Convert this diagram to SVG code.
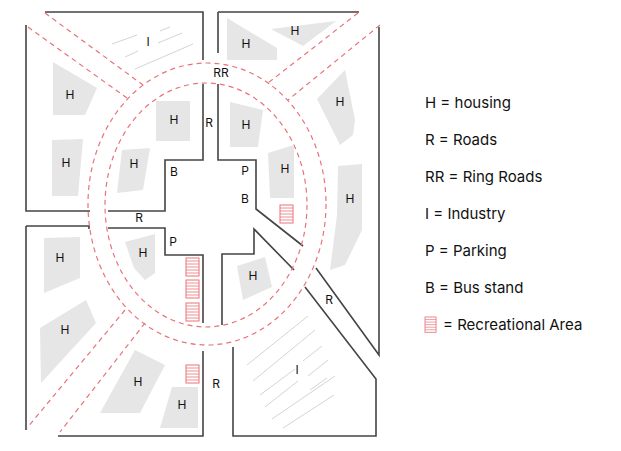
<svg xmlns="http://www.w3.org/2000/svg" width="621" height="451" viewBox="0 0 621 451">
<defs>
<style>
.w{fill:none;stroke:#444;stroke-width:1.6}
.d{fill:none;stroke:#e8737a;stroke-width:1.2;stroke-dasharray:5 4}
.h{fill:#e6e6e6}
.i{stroke:#d4d4d4;stroke-width:1}
text{font-family:Inter,"Liberation Sans",sans-serif;fill:#111}
.s{font-size:12px;text-anchor:middle}
.l{font-size:15px}
</style>
<g id="rec"><rect x="0" y="0" width="13" height="18" fill="none" stroke="#e8737a" stroke-width="1"/><path d="M0 3h13M0 6h13M0 9h13M0 12h13M0 15h13" stroke="#e8737a" stroke-width="0.8"/></g>
</defs>
<rect width="621" height="451" fill="#fff"/>
<g id="blocks">
<path class="w" d="M45 12H203V60M203 84V160H165V211H108M26 25V211H90"/>
<path class="w" d="M218 12H359M218 12V53M218 84V160H256V209L303 246M379 27V355L316 268"/>
<path class="w" d="M26 226H89V229M26 226V430M58 436H203V351M108 228H165V255H203V323"/>
<path class="w" d="M222 325V254H254V229L294 270M233 347V436H376V379L305 287"/>
</g>
<g id="roads">
<ellipse class="d" cx="207" cy="204" rx="119" ry="141"/>
<ellipse class="d" cx="206" cy="205" rx="101" ry="122"/>
<path class="d" d="M28 27L127 98M45 13L143 85M358 13L268 83M380 25L288 100M125 310L27 428M145 323L60 432"/>
</g>
<g id="houses">
<polygon class="h" points="53,62 97,88 85,115 53,115"/>
<polygon class="h" points="52,140 83,139 78,196 52,196"/>
<polygon class="h" points="156,101 190,101 190,141 156,141"/>
<polygon class="h" points="122,150 150,148 143,190 117,193"/>
<polygon class="h" points="227,18 277,48 277,60 227,60"/>
<polygon class="h" points="271,29 336,21 303,46"/>
<polygon class="h" points="230,102 263,110 258,147 230,147"/>
<polygon class="h" points="268,153 294,145 294,198 270,198"/>
<polygon class="h" points="317,99 345,70 355,120 353,135 340,145"/>
<polygon class="h" points="338,166 362,164 362,230 345,265 330,270 337,215"/>
<polygon class="h" points="44,238 80,237 80,278 44,293"/>
<polygon class="h" points="40,328 86,300 96,323 41,383"/>
<polygon class="h" points="100,413 135,350 165,365 140,413"/>
<polygon class="h" points="172,387 198,387 198,428 160,428"/>
<polygon class="h" points="125,242 155,234 155,273 145,280 134,268"/>
<polygon class="h" points="237,266 265,257 272,287 243,300"/>
</g>
<g id="industry">
<path class="i" d="M112 44L137 35M125 57L138 51M158 43L182 33M160 31L170 27M135 69L193 44"/>
<path class="i" d="M247 365L308 316M253 381L315 330M260 395L295 369M265 407L298 381M272 419L335 376M283 428L334 395M303 361L322 346M308 376L328 360M310 390L327 378"/>
</g>
<g id="recreation">
<use href="#rec" x="280" y="205"/>
<use href="#rec" x="186" y="258"/>
<use href="#rec" x="186" y="280"/>
<use href="#rec" x="186" y="303"/>
<use href="#rec" x="186" y="365"/>
</g>
<g id="labels">
<text class="s" x="148" y="46">I</text>
<text class="s" x="70" y="99">H</text>
<text class="s" x="66" y="167">H</text>
<text class="s" x="174" y="124">H</text>
<text class="s" x="134" y="168">H</text>
<text class="s" x="246" y="48">H</text>
<text class="s" x="295" y="35">H</text>
<text class="s" x="246" y="129">H</text>
<text class="s" x="285" y="173">H</text>
<text class="s" x="340" y="106">H</text>
<text class="s" x="350" y="203">H</text>
<text class="s" x="60" y="262">H</text>
<text class="s" x="65" y="334">H</text>
<text class="s" x="138" y="386">H</text>
<text class="s" x="182" y="409">H</text>
<text class="s" x="143" y="257">H</text>
<text class="s" x="253" y="280">H</text>
<text class="s" x="221" y="77">RR</text>
<text class="s" x="209" y="127">R</text>
<text class="s" x="174" y="176">B</text>
<text class="s" x="245" y="175">P</text>
<text class="s" x="245" y="203">B</text>
<text class="s" x="139" y="222">R</text>
<text class="s" x="173" y="246">P</text>
<text class="s" x="329" y="304">R</text>
<text class="s" x="216" y="388">R</text>
<text class="s" x="297" y="374">I</text>
</g>
<g id="legend">
<text class="l" x="425" y="108">H = housing</text>
<text class="l" x="425" y="145">R = Roads</text>
<text class="l" x="425" y="182">RR = Ring Roads</text>
<text class="l" x="425" y="219">I = Industry</text>
<text class="l" x="425" y="256">P = Parking</text>
<text class="l" x="425" y="293">B = Bus stand</text>
<use href="#rec" x="0" y="0" transform="translate(425,317) scale(0.85)"/>
<text class="l" x="443" y="330">= Recreational Area</text>
</g>
</svg>
